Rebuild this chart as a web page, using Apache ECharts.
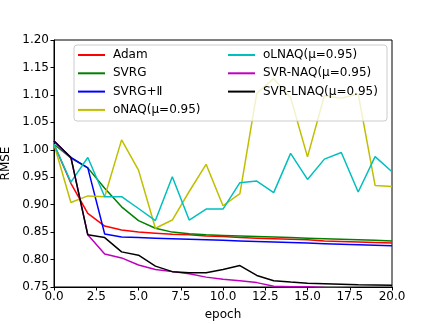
<!DOCTYPE html>
<html>
<head>
<meta charset="utf-8">
<script src="https://cdn.jsdelivr.net/npm/echarts@6/dist/echarts.min.js"></script>
<style>
  html, body { margin: 0; padding: 0; background: #fff; }
  #chart { width: 436px; height: 324px; }
</style>
</head>
<body>
<div id="chart"></div>
<script>
// epochs 0..20
const epochs = [0, 1, 2, 3, 4, 5, 6, 7, 8, 9, 10, 11, 12, 13, 14, 15, 16, 17, 18, 19, 20]

const adam = [1.01, 0.939, 0.884, 0.861, 0.854, 0.850, 0.848, 0.846, 0.845, 0.843, 0.842,
  0.840, 0.839, 0.838, 0.837, 0.836, 0.834, 0.833, 0.832, 0.831, 0.830]
const svrg = [1.01, 0.985, 0.967, 0.930, 0.896, 0.871, 0.857, 0.850, 0.847, 0.845, 0.844,
  0.843, 0.842, 0.841, 0.840, 0.839, 0.838, 0.837, 0.836, 0.835, 0.834]
const svrgII = [1.016, 0.986, 0.967, 0.8465, 0.841, 0.840, 0.839, 0.838, 0.837, 0.836, 0.835,
  0.834, 0.833, 0.832, 0.831, 0.830, 0.829, 0.828, 0.827, 0.826, 0.825]
const onaq = [1.01, 0.904, 0.916, 0.9145, 1.018, 0.963, 0.857, 0.872, 0.924, 0.9735, 0.898,
  0.920, 1.103, 1.130, 1.095, 0.987, 1.099, 1.094, 1.102, 0.935, 0.933]
const olnaq = [1.01, 0.941, 0.986, 0.9145, 0.9145, 0.893, 0.871, 0.951, 0.872, 0.892, 0.892,
  0.940, 0.943, 0.922, 0.9935, 0.946, 0.983, 0.995, 0.923, 0.9875, 0.960]
const svrNaq = [1.016, 0.986, 0.845, 0.810, 0.803, 0.790, 0.782, 0.778, 0.774, 0.768, 0.764,
  0.7615, 0.758, 0.7515, 0.7505, 0.7503, 0.749, 0.748, 0.747, 0.746, 0.745]
const svrLnaq = [1.016, 0.986, 0.845, 0.840, 0.814, 0.808, 0.788, 0.778, 0.776, 0.776, 0.782,
  0.789, 0.771, 0.7615, 0.759, 0.757, 0.756, 0.755, 0.754, 0.7535, 0.753]

const seriesNames = ['Adam', 'SVRG', 'SVRG+Ⅱ', 'oNAQ(μ=0.95)', 'oLNAQ(μ=0.95)', 'SVR-NAQ(μ=0.95)', 'SVR-LNAQ(μ=0.95)']
const seriesValues = [adam, svrg, svrgII, onaq, olnaq, svrNaq, svrLnaq]
const colors = ['#ff0000', '#008000', '#0000ff', '#bfbf00', '#00bfbf', '#bf00bf', '#000000']

const font = 'DejaVu Sans'

let chart = echarts.init(document.getElementById('chart'))

let series = seriesNames.map(function(name, i) {
  return {
    name: name,
    type: 'line',
    symbol: 'none',
    clip: true,
    lineStyle: { width: 1.5, color: colors[i] },
    itemStyle: { color: colors[i] },
    data: epochs.map(function(e, j) { return [e, seriesValues[i][j]] })
  }
})

let legendCommon = {
  orient: 'vertical',
  icon: 'rect',
  itemWidth: 27,
  itemHeight: 2,
  itemGap: 4.3,
  padding: 0,
  z: 10,
  textStyle: { fontFamily: font, fontSize: 12, color: '#000', lineHeight: 14, padding: [0, 0, 0, 3] }
}

chart.setOption({
  animation: false,
  color: colors,
  grid: {
    left: 54,
    right: 44,
    top: 40,
    bottom: 37,
    containLabel: false,
    outerBoundsMode: 'none',
    show: true,
    borderColor: '#000',
    borderWidth: 1
  },
  legend: [
    Object.assign({}, legendCommon, { left: 78, top: 48, data: seriesNames.slice(0, 4) }),
    Object.assign({}, legendCommon, { left: 228, top: 48, data: seriesNames.slice(4) })
  ],
  graphic: [{
    type: 'rect',
    shape: { x: 74, y: 45, width: 313, height: 76, r: 3 },
    style: { fill: 'rgba(255,255,255,0.8)', stroke: '#cccccc', lineWidth: 1 },
    z: 5
  }],
  xAxis: {
    type: 'value',
    min: 0,
    max: 20,
    interval: 2.5,
    name: 'epoch',
    nameLocation: 'middle',
    nameGap: 22,
    nameTextStyle: { fontFamily: font, fontSize: 12, color: '#000' },
    axisLine: { show: true, lineStyle: { color: '#000', width: 1 } },
    axisTick: { show: true, length: 3.5, lineStyle: { color: '#000' } },
    axisLabel: {
      fontFamily: font, fontSize: 12, color: '#000', margin: 4,
      formatter: function(v) { return v.toFixed(1) }
    },
    splitLine: { show: false }
  },
  yAxis: {
    type: 'value',
    min: 0.75,
    max: 1.2,
    interval: 0.05,
    name: 'RMSE',
    nameLocation: 'middle',
    nameGap: 37,
    nameTextStyle: { fontFamily: font, fontSize: 12, color: '#000' },
    axisLine: { show: true, lineStyle: { color: '#000', width: 1 } },
    axisTick: { show: true, length: 3.5, lineStyle: { color: '#000' } },
    axisLabel: {
      fontFamily: font, fontSize: 12, color: '#000', margin: 5,
      formatter: function(v) { return v.toFixed(2) }
    },
    splitLine: { show: false }
  },
  series: series
})
</script>
</body>
</html>
